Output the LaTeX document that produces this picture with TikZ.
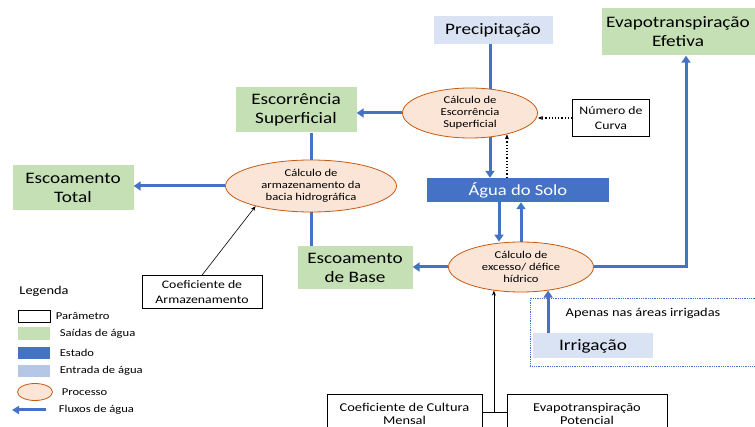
\documentclass[tikz,border=0pt]{standalone}
\usepackage{fontspec}
\setmainfont{Carlito}[FakeStretch=1.2]
\usetikzlibrary{arrows.meta,shapes.geometric,backgrounds}
\definecolor{outgreen}{HTML}{C5E0B4}
\definecolor{ingblue}{HTML}{DAE3F3}
\definecolor{legblue}{HTML}{B4C7E7}
\definecolor{stateblue}{HTML}{4472C4}
\definecolor{procfill}{HTML}{FBE5D6}
\definecolor{procdraw}{HTML}{C55A11}
\tikzset{
  bigtext/.style={font=\fontsize{16}{19}\selectfont},
  outbox/.style={bigtext, fill=outgreen, align=center, inner sep=0pt},
  inbox/.style={bigtext, fill=ingblue, align=center, inner sep=0pt},
  statebox/.style={font=\fontsize{15.5}{19}\selectfont, fill=stateblue, text=white, inner sep=0pt},
  parbox/.style={draw, line width=0.6pt, fill=white, align=center, inner sep=0pt,
    font=\fontsize{11.5}{15}\selectfont},
  proc/.style={ellipse, draw=procdraw, line width=0.8pt, fill=procfill, align=center,
    inner sep=0pt, font=\fontsize{10.5}{11.8}\selectfont},
  flow/.style={draw=stateblue, line width=3pt, -{Triangle[width=9pt,length=7pt]}},
  flowline/.style={draw=stateblue, line width=3pt},
  pararrow/.style={line width=0.6pt, -{Stealth[length=5pt,width=4pt]}},
  pardotted/.style={line width=1.2pt, dotted, -{Stealth[length=5pt,width=4pt]}},
  legtext/.style={anchor=west, font=\fontsize{10.5}{12}\selectfont},
}
\begin{document}
\begin{tikzpicture}[x=1pt,y=-1pt]
  \useasboundingbox (0,0) rectangle (755,427);

  % caixas e processos
  \node[inbox, minimum width=119pt, minimum height=28pt] (prec) at (493,30) {Precipitação};
  \node[outbox, minimum width=153pt, minimum height=47pt] (eve) at (678,32) {Evapotranspiração\\Efetiva};
  \node[outbox, minimum width=121pt, minimum height=45pt] (escsup) at (296,110) {Escorrência\\Superficial};
  \node[outbox, minimum width=121pt, minimum height=45pt] (esctot) at (73,188) {Escoamento\\Total};
  \node[outbox, minimum width=115pt, minimum height=43pt] (escbase) at (355,268) {Escoamento\\de Base};
  \node[statebox, minimum width=182pt, minimum height=24pt] (agua) at (518,190) {Água do Solo};
  \node[inbox, minimum width=120pt, minimum height=25pt] (irr) at (593,346) {Irrigação};
  \node[proc, minimum width=135pt, minimum height=50pt] (ell1) at (470,113) {Cálculo de\\Escorrência\\Superficial};
  \node[proc, minimum width=171pt, minimum height=52pt] (ell3) at (311,186) {Cálculo de\\armazenamento da\\bacia hidrográfica};
  \node[proc, minimum width=145pt, minimum height=50pt] (ell2) at (521,267) {Cálculo de\\excesso/ défice\\hídrico};
  \node[parbox, minimum width=77pt, minimum height=37pt] (curva) at (611,118) {Número de\\Curva};
  \node[parbox, minimum width=120pt, minimum height=33pt] (coefarm) at (202,292) {Coeficiente de\\Armazenamento};
  \node[parbox, minimum width=155pt, minimum height=40pt, font=\fontsize{12}{13.5}\selectfont] (cc) at (404.5,414) {Coeficiente de Cultura\\Mensal};
  \node[parbox, minimum width=160pt, minimum height=40pt, font=\fontsize{12}{13.5}\selectfont] (ep) at (587,414) {Evapotranspiração\\Potencial};

  % zona irrigada
  \draw[stateblue, line width=0.8pt, densely dotted] (530,298) rectangle (760,366);
  \node[font=\fontsize{12}{14}\selectfont] (irrtxt) at (643,313) {Apenas nas áreas irrigadas};

  % fluxos
  \coordinate (c1) at ([xshift=-3pt]prec.south);
  \begin{scope}[on background layer]
    \draw[flowline] (c1) -- (c1 |- ell1.center);
    \draw[flow] (c1 |- ell1.center) -- (c1 |- agua.north);
    \draw[flowline] (escsup.south -| ell3) -- (escbase.north -| ell3);
  \end{scope}
  \draw[flow] (ell1.west) -- (ell1.west -| escsup.east);
  \draw[flow] (ell3.west) -- (ell3.west -| esctot.east);
  \draw[flow] (ell2.west) -- (ell2.west -| escbase.east);
  \draw[flow] ([xshift=-22pt]ell2.north |- agua.south) -- ([xshift=-22pt]ell2.north);
  \draw[flow] (ell2.north) -- (ell2.north |- agua.south);
  \draw[flow] (ell2.east) -| ([xshift=8pt]eve.south);
  \draw[flow] (irr.north -| ell2.-41) -- (ell2.-41);

  % parametros
  \draw[pardotted] (curva.west) -- (curva.west -| ell1.east);
  \draw[pardotted] (agua.north -| ell1.-30) -- (ell1.-30);
  \draw[pararrow] (coefarm.north) -- (ell3.-160);
  \draw[line width=0.6pt] (cc.east |- 0,412) -- (ep.west |- 0,412);
  \draw[pararrow] (ell2.-139 |- 0,412) -- (ell2.-139);

  % legenda
  \node[font=\fontsize{12}{14}\selectfont] (leg) at (44,291) {Legenda};
  \node[draw, line width=0.6pt, minimum width=32pt, minimum height=12pt, inner sep=0pt] (leg1) at (34,316) {};
  \node[fill=outgreen, minimum width=32pt, minimum height=13pt, inner sep=0pt] (leg2) at (34,334) {};
  \node[fill=stateblue, minimum width=32pt, minimum height=12pt, inner sep=0pt] (leg3) at (34,353) {};
  \node[fill=legblue, minimum width=32pt, minimum height=12pt, inner sep=0pt] (leg4) at (34,371) {};
  \node[proc, minimum width=35pt, minimum height=17pt] (leg5) at (35,392) {};
  \coordinate (leg6) at (46,410);
  \draw[draw=stateblue, line width=3pt, -{Triangle[width=8pt,length=7pt]}] (leg6) -- ++(-34,0);
  \foreach \i/\dx/\txt in {1/2/Parâmetro, 2/6/Saídas de água, 3/6/Estado, 4/6/Entrada de água, 5/8/Processo, 6/5/Fluxos de água}
    \node[legtext] at ([xshift=\dx pt]leg1.east |- leg\i) {\txt};
\end{tikzpicture}
\end{document}
